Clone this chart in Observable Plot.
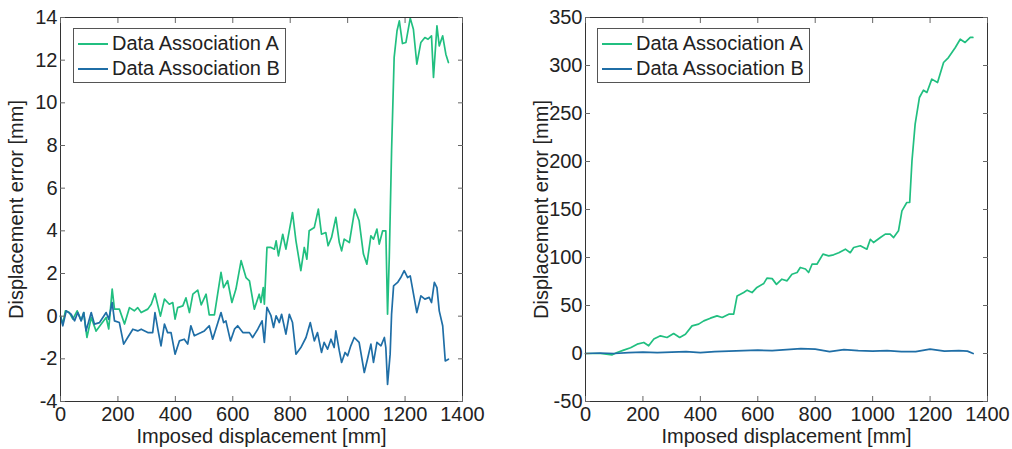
<!DOCTYPE html>
<html>
<head>
<meta charset="utf-8">
<script src="https://cdn.jsdelivr.net/npm/d3@7"></script>
<script src="https://cdn.jsdelivr.net/npm/@observablehq/plot@0.6"></script>
<style>
  body { margin: 0; background: #fff; }
  #wrap { position: relative; width: 1012px; height: 449px; font-family: "Liberation Sans", Arial, sans-serif; }
  .panel { position: absolute; top: 0; }
  .legend { position: absolute; background: #fff; border: 1px solid #555; box-sizing: border-box; font-size: 20px; color: #222; }
  .legend .row { position: absolute; left: 4px; display: flex; align-items: center; white-space: nowrap; }
  .legend .sw { width: 30px; height: 0; border-top: 2px solid; margin-right: 4px; }
</style>
</head>
<body>
<div id="wrap"></div>
<script>
// ---- data ----
const seriesNames = ["Data Association A", "Data Association B"];
const colors = ["#21bf80", "#1f6ea6"];
const xTicks = [0, 200, 400, 600, 800, 1000, 1200, 1400];
const leftYTicks = [-4, -2, 0, 2, 4, 6, 8, 10, 12, 14];
const rightYTicks = [-50, 0, 50, 100, 150, 200, 250, 300, 350];

// Left panel, series A: [imposed displacement, error]
const leftA = [
  [0,0],[8,-0.37],[17,0.25],[31,0.17],[43,-0.14],[58,0.25],[72,-0.2],[81,0.17],[92,-1.0],[107,-0.06],
  [124,-0.7],[142,-0.37],[159,-0.06],[168,-0.6],[180,1.27],[188,0.33],[205,0.33],[223,-0.37],[240,0.4],
  [257,0.25],[269,0.4],[281,0.17],[304,0.33],[316,0.56],[329,1.06],[348,0.0],[362,0.8],[379,0.56],
  [391,0.64],[399,-0.14],[408,0.4],[426,0.48],[437,0.86],[449,0.17],[461,1.03],[478,1.22],[490,0.53],
  [507,1.03],[518,0.06],[536,0.06],[559,2.05],[568,1.34],[582,1.66],[597,0.64],[611,1.27],[629,2.6],
  [646,1.81],[658,1.66],[675,0.33],[692,1.03],[698,0.64],[706,1.34],[710,0.56],[719,3.22],[733,3.22],
  [745,3.14],[751,3.53],[759,2.83],[774,3.84],[785,3.14],[803,4.47],[808,4.86],[820,3.53],[837,2.13],
  [849,3.22],[858,2.67],[866,4.0],[884,4.16],[898,5.02],[909,3.84],[924,3.92],[932,3.3],[944,3.69],
  [959,4.63],[971,3.45],[979,3.06],[988,3.61],[1006,3.45],[1025,5.02],[1040,4.47],[1055,2.91],[1067,2.44],
  [1081,3.77],[1090,3.61],[1102,4.08],[1110,3.38],[1122,4.0],[1133,4.0],[1139,0.09],[1145,2.75],
  [1153,7.75],[1162,12.13],[1172,13.38],[1180,13.84],[1191,12.78],[1203,12.83],[1218,13.97],[1229,13.45],
  [1241,11.81],[1255,12.83],[1269,13.06],[1280,12.98],[1292,13.14],[1299,11.19],[1311,13.61],[1319,12.67],
  [1331,13.14],[1342,12.28],[1351,11.89]
];
// Left panel, series B
const leftB = [
  [0,0],[8,-0.45],[20,0.25],[37,0.09],[49,-0.22],[60,0.17],[72,-0.22],[81,0.17],[89,-0.69],[107,0.17],
  [118,-0.37],[136,-0.3],[159,0.17],[168,-0.14],[180,0.64],[188,-0.22],[205,-0.3],[220,-1.31],[234,-1.0],
  [252,-0.61],[269,-0.69],[281,-0.61],[304,-0.77],[321,-0.77],[329,0.17],[339,-0.61],[350,-1.39],
  [362,-0.37],[373,-0.77],[385,-0.77],[399,-1.78],[414,-1.16],[431,-1.08],[443,-1.31],[454,-0.45],
  [466,-0.92],[490,-0.77],[501,-0.69],[518,-0.45],[530,-1.08],[559,0.17],[568,-0.3],[576,-0.22],
  [592,-1.16],[606,-0.61],[617,-0.45],[635,-0.77],[658,-0.77],[669,-1.0],[687,-0.61],[702,-0.22],
  [710,-1.23],[719,0.41],[733,0.02],[742,-0.53],[751,0.02],[762,-0.3],[770,0.09],[785,-0.84],[797,0.09],
  [808,-0.3],[820,-1.78],[837,-1.47],[855,-1.0],[870,-0.3],[884,-1.16],[895,-0.77],[909,-1.7],[918,-1.23],
  [930,-1.55],[942,-1.08],[953,-1.47],[959,-0.69],[971,-1.63],[979,-2.17],[991,-1.7],[1000,-1.86],
  [1011,-1.39],[1023,-1.0],[1040,-1.23],[1058,-2.64],[1069,-2.02],[1081,-1.31],[1090,-2.17],[1102,-1.23],
  [1116,-1.39],[1128,-1.0],[1133,-1.47],[1139,-3.2],[1148,-1.78],[1153,0.09],[1160,1.42],[1174,1.58],
  [1185,1.81],[1197,2.13],[1209,1.81],[1218,1.89],[1241,0.17],[1255,0.95],[1269,0.8],[1284,0.88],
  [1292,0.64],[1302,1.58],[1311,1.34],[1319,0.25],[1331,-0.45],[1340,-2.1],[1351,-2.02]
];
// Right panel, series A
const rightA = [
  [0,0],[52,0],[93,-1.4],[110,1],[133,3.5],[157,6],[180,9.7],[203,11.5],[220,8],[238,15],[261,18.4],
  [284,16.7],[307,20.8],[328,16.7],[348,20],[371,28.8],[394,30.6],[412,34],[435,36.8],[458,39.2],
  [476,37.5],[499,41],[516,41],[528,60],[551,63.5],[563,66],[580,63.5],[597,68.8],[621,73],[632,78.5],
  [650,78],[665,72],[684,77.4],[702,75.7],[719,82.6],[737,84.4],[748,89.6],[766,88],[777,84.4],[789,93],
  [806,93],[827,103.5],[847,101.7],[864,102.8],[882,105],[905,108.7],[922,105],[934,110.4],[957,112.2],
  [980,108.7],[992,119],[1003,115.6],[1027,120.8],[1044,124.3],[1061,124.3],[1073,120.8],[1090,127.8],
  [1102,148.6],[1119,157.3],[1129,157.3],[1137,200.7],[1148,238.9],[1163,266.7],[1177,274.3],[1189,271.9],
  [1206,285.8],[1226,282.3],[1247,303.1],[1264,308.3],[1288,318.8],[1305,327.4],[1322,324],[1340,329.2],
  [1349,329.2]
];
// Right panel, series B
const rightB = [
  [0,0],[50,0.5],[100,0],[150,1],[200,1.5],[250,1],[300,1.5],[350,2],[400,1],[450,2],[500,2.5],
  [550,3],[600,3.5],[650,3],[700,4],[750,5],[800,4.5],[850,2],[900,4],[950,3],[1000,2.5],[1050,3],
  [1100,2],[1150,2],[1200,4.5],[1250,2.5],[1300,3],[1330,2.5],[1350,0]
];

// ---- drawing ----
const FONT = "Liberation Sans, Arial, sans-serif";
const fmt = d => String(d);
function panel(dataA, dataB, yDomain, yTicks) {
  const ink = "#222";
  return Plot.plot({
    width: 490, height: 449,
    marginLeft: 60, marginRight: 28, marginTop: 17, marginBottom: 48,
    style: {fontFamily: FONT, fontSize: "20px", color: ink, background: "transparent"},
    x: {domain: [0, 1400], ticks: xTicks},
    y: {domain: yDomain, ticks: yTicks},
    marks: [
      Plot.line(dataA, {x: d => d[0], y: d => d[1], stroke: colors[0], strokeWidth: 1.7}),
      Plot.line(dataB, {x: d => d[0], y: d => d[1], stroke: colors[1], strokeWidth: 1.7}),
      Plot.frame({stroke: "#333", strokeWidth: 1}),
      Plot.axisX(xTicks, {anchor: "bottom", tickSize: -5, tickFormat: () => "", label: null, stroke: "#666"}),
      Plot.axisX(xTicks, {anchor: "top", tickSize: -5, tickFormat: () => "", label: null, stroke: "#666"}),
      Plot.axisY(yTicks, {anchor: "left", tickSize: -5, tickFormat: () => "", label: null, stroke: "#666"}),
      Plot.axisY(yTicks, {anchor: "right", tickSize: -5, tickFormat: () => "", label: null, stroke: "#666"}),
      Plot.axisX(xTicks, {anchor: "bottom", tickSize: 0, tickPadding: 5, tickFormat: fmt, label: "Imposed displacement [mm]",
        labelAnchor: "center", labelArrow: "none", labelOffset: 41, fill: ink}),
      Plot.axisY(yTicks, {anchor: "left", tickSize: 0, tickPadding: 3, tickFormat: fmt, label: "Displacement error [mm]",
        labelAnchor: "center", labelArrow: "none", labelOffset: 52, fill: ink})
    ]
  });
}

function legend(left) {
  const lg = document.createElement("div");
  lg.className = "legend";
  Object.assign(lg.style, {left: left + "px", top: "28px", width: "213px", height: "55px"});
  seriesNames.forEach((name, i) => {
    const row = document.createElement("div");
    row.className = "row";
    row.style.top = (i === 0 ? 3 : 28) + "px";
    const sw = document.createElement("span");
    sw.className = "sw";
    sw.style.borderTopColor = colors[i];
    const tx = document.createElement("span");
    tx.textContent = name;
    row.append(sw, tx);
    lg.append(row);
  });
  return lg;
}

const wrap = document.getElementById("wrap");
const p1 = panel(leftA, leftB, [-4, 14], leftYTicks);
p1.classList.add("panel"); p1.style.left = "0px";
const p2 = panel(rightA, rightB, [-50, 350], rightYTicks);
p2.classList.add("panel"); p2.style.left = "525px";
wrap.append(p1, p2, legend(73), legend(597));
</script>
</body>
</html>
